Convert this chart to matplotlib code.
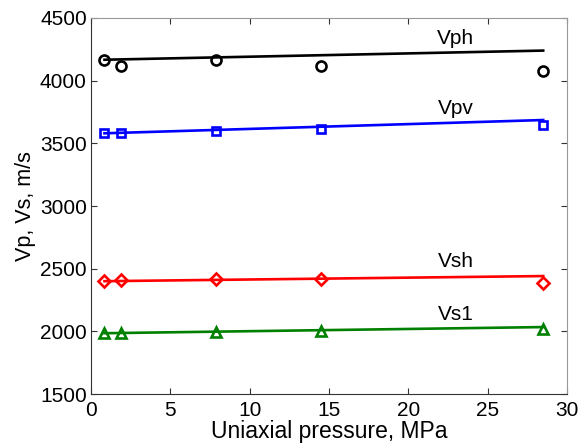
import numpy as np
import matplotlib.pyplot as plt

# uniaxial pressure, MPa
pressure = [0.85, 1.9, 7.9, 14.5, 28.5]

# measured velocities, m/s
vph = [4165, 4120, 4162, 4120, 4075]
vpv = [3580, 3580, 3598, 3612, 3646]
vsh = [2401, 2409, 2415, 2415, 2385]
vs1 = [1988, 1990, 1995, 2000, 2015]

# fitted trend lines (end points), m/s
fit_x = [0.85, 28.5]
vph_fit = [4167, 4240]
vpv_fit = [3580, 3686]
vsh_fit = [2400, 2441]
vs1_fit = [1985, 2034]

series = [
    ('Vph', vph, vph_fit, 'k', 'o', 4340),
    ('Vpv', vpv, vpv_fit, 'b', 's', 3774),
    ('Vsh', vsh, vsh_fit, 'r', 'D', 2555),
    ('Vs1', vs1, vs1_fit, (0, 0.5, 0), '^', 2138),
]

plt.rcParams['font.family'] = ['Liberation Sans', 'DejaVu Sans']

fig = plt.figure(figsize=(5.81, 4.48), dpi=100)
ax = fig.add_axes([91 / 581, 1 - 394 / 448, 476 / 581, 376 / 448])

msize = {'o': 7.2, 's': 6.2, 'D': 6.2, '^': 7.8}
for name, vals, fit, col, mk, ylab in series:
    ax.plot(fit_x, fit, '-', color=col, lw=1.9, zorder=2)
    ax.plot(pressure, vals, linestyle='none', marker=mk, ms=msize[mk],
            mfc='none', mec=col, mew=1.9, zorder=3)
    ax.text(23.0, ylab, name, fontsize=15, ha='center', va='center')

ax.set_xlim(0, 30)
ax.set_ylim(1500, 4500)
ax.set_xticks(np.arange(0, 31, 5))
ax.set_yticks(np.arange(1500, 4501, 500))
ax.tick_params(direction='in', top=True, right=True, labelsize=15,
               length=4, width=0.8, colors='#333333', labelcolor='black')
ax.tick_params(axis='x', pad=5)
ax.tick_params(axis='y', pad=3)
for side in ['top', 'right']:
    ax.spines[side].set_color('#999999')
for side in ['left', 'bottom']:
    ax.spines[side].set_color('#333333')
ax.set_xlabel('Uniaxial pressure, MPa', fontsize=16.5, labelpad=0)
ax.set_ylabel('Vp, Vs, m/s', fontsize=15.5, labelpad=3)

fig.savefig('out.png', dpi=100)
